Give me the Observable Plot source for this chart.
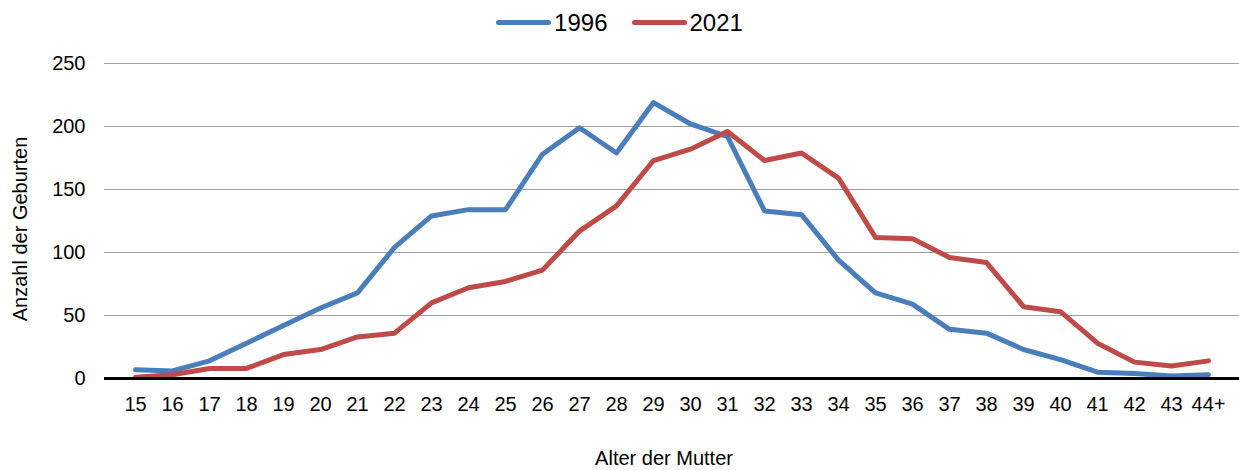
<!DOCTYPE html>
<html>
<head>
<meta charset="utf-8">
<script src="https://cdn.jsdelivr.net/npm/d3@7"></script>
<script src="https://cdn.jsdelivr.net/npm/@observablehq/plot@0.6"></script>
<style>
  html, body { margin: 0; padding: 0; background: #fff; }
  body { width: 1239px; height: 470px; overflow: hidden; font-family: "Liberation Sans", Arial, sans-serif; }
  #legend { height: 45px; display: flex; justify-content: center; align-items: center; font-size: 24px; color: #000; }
  .item { display: flex; align-items: center; margin: 0 12px; }
  .sw { width: 55px; height: 5px; border-radius: 3px; margin-right: 3px; }
  #chart svg { display: block; }
</style>
</head>
<body>
<div id="legend"></div>
<div id="chart"></div>
<script>
const ages = ["15","16","17","18","19","20","21","22","23","24","25","26","27","28","29","30","31","32","33","34","35","36","37","38","39","40","41","42","43","44+"];
const values1996 = [7,6,14,28,42,56,68,104,129,134,134,178,199,179,219,202,192,133,130,94,68,59,39,36,23,15,5,4,2,3];
const values2021 = [1,3,8,8,19,23,33,36,60,72,77,86,117,137,173,182,196,173,179,159,112,111,96,92,57,53,28,13,10,14];
const seriesNames = ["1996", "2021"];
const seriesColors = ["#4a7ebb", "#be4b48"];
const yTicks = [0, 50, 100, 150, 200, 250];

const rows = [];
ages.forEach((a, i) => {
  rows.push({age: a, value: values1996[i], series: seriesNames[0]});
  rows.push({age: a, value: values2021[i], series: seriesNames[1]});
});

// legend
const legend = document.getElementById("legend");
seriesNames.forEach((s, i) => {
  const it = document.createElement("div");
  it.className = "item";
  const sw = document.createElement("div");
  sw.className = "sw";
  sw.style.background = seriesColors[i];
  const t = document.createElement("span");
  t.textContent = s;
  it.appendChild(sw); it.appendChild(t);
  legend.appendChild(it);
});

const chart = Plot.plot({
  width: 1239,
  height: 425,
  marginTop: 18,
  marginBottom: 92,
  marginLeft: 104,
  marginRight: 0,
  style: {fontFamily: "'Liberation Sans', Arial, sans-serif", fontSize: "20px", color: "#000", background: "#fff"},
  x: {type: "point", domain: ages, padding: 0.5, label: null},
  y: {domain: [0, 250], label: null},
  color: {domain: seriesNames, range: seriesColors},
  marks: [
    Plot.gridY(yTicks.filter(d => d > 0), {stroke: "#a0a0a0", strokeOpacity: 1, strokeWidth: 1}),
    Plot.axisY(yTicks, {tickSize: 0, tickPadding: 19, label: null, fontSize: 20}),
    Plot.axisX(ages, {tickSize: 0, tickPadding: 18, label: null, fontSize: 20}),
    Plot.line(rows, {x: "age", y: "value", z: "series", stroke: "series", strokeWidth: 5, strokeLinejoin: "round", strokeLinecap: "round"}),
    Plot.ruleY([0], {stroke: "#000", strokeWidth: 3}),
    Plot.text(["Anzahl der Geburten"], {frameAnchor: "left", textAnchor: "middle", dx: -84, dy: 8, rotate: -90, fontSize: 20, fill: "#000"}),
    Plot.text(["Alter der Mutter"], {frameAnchor: "bottom", dy: 86, dx: -8, fontSize: 20, fill: "#000"})
  ]
});
document.getElementById("chart").appendChild(chart);
</script>
</body>
</html>
